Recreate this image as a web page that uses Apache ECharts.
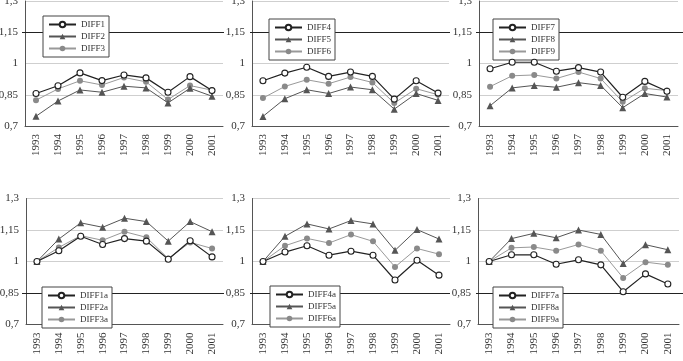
<!DOCTYPE html>
<html>
<head>
<meta charset="utf-8">
<script src="https://cdn.jsdelivr.net/npm/echarts@6/dist/echarts.min.js"></script>
<style>
html, body { margin: 0; padding: 0; background: #fff; }
#main { width: 683px; height: 361px; }
</style>
</head>
<body>
<div id="main"></div>
<script>
// categories and tick values
var years = ['1993', '1994', '1995', '1996', '1997', '1998', '1999', '2000', '2001'];
var yTicks = [0.7, 0.85, 1, 1.15, 1.3];

// top row
var diff1 = [0.856, 0.893, 0.955, 0.918, 0.945, 0.931, 0.862, 0.937, 0.870];
var diff2 = [0.747, 0.820, 0.873, 0.862, 0.891, 0.883, 0.811, 0.881, 0.843];
var diff3 = [0.824, 0.878, 0.917, 0.897, 0.933, 0.912, 0.827, 0.894, 0.872];
var diff4 = [0.917, 0.954, 0.982, 0.938, 0.959, 0.938, 0.829, 0.917, 0.858];
var diff5 = [0.746, 0.831, 0.874, 0.856, 0.887, 0.874, 0.781, 0.856, 0.823];
var diff6 = [0.834, 0.890, 0.922, 0.903, 0.935, 0.909, 0.810, 0.879, 0.850];
var diff7 = [0.975, 1.006, 1.006, 0.963, 0.980, 0.959, 0.838, 0.914, 0.867];
var diff8 = [0.797, 0.883, 0.895, 0.886, 0.908, 0.895, 0.788, 0.856, 0.839];
var diff9 = [0.889, 0.941, 0.945, 0.928, 0.959, 0.928, 0.816, 0.881, 0.870];

// bottom row
var diff1a = [1.0, 1.051, 1.120, 1.081, 1.109, 1.097, 1.011, 1.099, 1.022];
var diff2a = [1.0, 1.107, 1.184, 1.163, 1.206, 1.190, 1.097, 1.190, 1.142];
var diff3a = [1.0, 1.067, 1.123, 1.101, 1.142, 1.115, 1.014, 1.091, 1.062];
var diff4a = [1.0, 1.045, 1.075, 1.030, 1.049, 1.030, 0.912, 1.006, 0.935];
var diff5a = [1.0, 1.120, 1.179, 1.155, 1.195, 1.179, 1.053, 1.152, 1.107];
var diff6a = [1.0, 1.075, 1.110, 1.088, 1.128, 1.096, 0.974, 1.062, 1.035];
var diff7a = [1.0, 1.032, 1.032, 0.987, 1.008, 0.984, 0.856, 0.941, 0.893];
var diff8a = [1.0, 1.109, 1.134, 1.113, 1.150, 1.129, 0.990, 1.080, 1.056];
var diff9a = [1.0, 1.065, 1.069, 1.051, 1.081, 1.051, 0.922, 0.997, 0.984];

// panel layout: grid, legend box position, dark reference line value and its horizontal extent
var panels = [
    { names: ['DIFF1', 'DIFF2', 'DIFF3'], data: [diff1, diff2, diff3], left: 25, top: 1, width: 198, height: 125, lgLeft: 43, lgTop: 16, ref: 1.15, refFrom: 22, refTo: 224 },
    { names: ['DIFF4', 'DIFF5', 'DIFF6'], data: [diff4, diff5, diff6], left: 252, top: 1, width: 197, height: 125, lgLeft: 269, lgTop: 19, ref: 1.15, refFrom: 250, refTo: 450 },
    { names: ['DIFF7', 'DIFF8', 'DIFF9'], data: [diff7, diff8, diff9], left: 479, top: 1, width: 199, height: 125, lgLeft: 493, lgTop: 19, ref: 1.15, refFrom: 476, refTo: 683 },
    { names: ['DIFF1a', 'DIFF2a', 'DIFF3a'], data: [diff1a, diff2a, diff3a], left: 26, top: 198.5, width: 197, height: 126, lgLeft: 42, lgTop: 287, ref: 0.85, refFrom: 22, refTo: 224 },
    { names: ['DIFF4a', 'DIFF5a', 'DIFF6a'], data: [diff4a, diff5a, diff6a], left: 252, top: 198.5, width: 198, height: 126, lgLeft: 270, lgTop: 286, ref: 0.85, refFrom: 250, refTo: 450 },
    { names: ['DIFF7a', 'DIFF8a', 'DIFF9a'], data: [diff7a, diff8a, diff9a], left: 478, top: 198.5, width: 201, height: 126, lgLeft: 493, lgTop: 287, ref: 0.85, refFrom: 476, refTo: 683 }
];

// marker / line style for 1st, 2nd, 3rd series of each panel
var styles = [
    { symbol: 'circle', symbolSize: 6, itemStyle: { color: '#fff', borderColor: '#222', borderWidth: 1.1 }, lineStyle: { color: '#222', width: 1.2 } },
    { symbol: 'triangle', symbolSize: 7, itemStyle: { color: '#555' }, lineStyle: { color: '#555', width: 1 } },
    { symbol: 'circle', symbolSize: 6, itemStyle: { color: '#8a8a8a' }, lineStyle: { color: '#999', width: 1 } }
];

var serif = 'Liberation Serif';
var grids = [], xAxes = [], yAxes = [], legends = [], series = [];

panels.forEach(function (p, i) {
    grids.push({ left: p.left, top: p.top, width: p.width, height: p.height, outerBoundsMode: 'none', containLabel: false });
    xAxes.push({
        type: 'category',
        gridIndex: i,
        data: years,
        boundaryGap: true,
        axisLine: { lineStyle: { color: '#555', width: 1 } },
        axisTick: { inside: true, length: 4, lineStyle: { color: '#555' } },
        axisLabel: { rotate: 90, margin: 8, fontFamily: serif, fontSize: 11, color: '#333' }
    });
    yAxes.push({
        type: 'value',
        gridIndex: i,
        min: 0.7,
        max: 1.3,
        axisLine: { show: true, lineStyle: { color: '#555', width: 1 } },
        axisTick: { show: false, customValues: yTicks },
        splitLine: { show: true, lineStyle: { color: '#cfcfcf', width: 1 } },
        axisLabel: {
            customValues: yTicks,
            margin: 7,
            fontFamily: serif,
            fontSize: 11,
            color: '#333',
            formatter: function (v) { return String(+v.toFixed(2)).replace('.', ','); }
        }
    });
    legends.push({
        orient: 'vertical',
        left: p.lgLeft,
        top: p.lgTop,
        data: p.names,
        selectedMode: false,
        backgroundColor: '#fff',
        borderColor: '#444',
        borderWidth: 1,
        borderRadius: 0,
        padding: [4, 4, 4, 5],
        itemGap: 3,
        itemWidth: 27,
        itemHeight: 7,
        textStyle: { fontFamily: serif, fontSize: 9, color: '#333' }
    });
    p.names.forEach(function (name, k) {
        series.push({
            name: name,
            type: 'line',
            xAxisIndex: i,
            yAxisIndex: i,
            data: p.data[k],
            symbol: styles[k].symbol,
            symbolSize: styles[k].symbolSize,
            showAllSymbol: true,
            itemStyle: styles[k].itemStyle,
            lineStyle: styles[k].lineStyle,
            z: 5 - k
        });
    });
});

var myChart = echarts.init(document.getElementById('main'));
myChart.setOption({
    animation: false,
    backgroundColor: '#fff',
    grid: grids,
    xAxis: xAxes,
    yAxis: yAxes,
    legend: legends,
    series: series
});

// dark reference lines, placed through each panel's own y scale
var refLines = panels.map(function (p, i) {
    var y = Math.round(myChart.convertToPixel({ yAxisIndex: i }, p.ref)) + 0.5;
    return {
        type: 'line',
        silent: true,
        z: 1,
        shape: { x1: p.refFrom, y1: y, x2: p.refTo, y2: y },
        style: { stroke: '#222', lineWidth: 1 }
    };
});
myChart.setOption({ graphic: refLines });
</script>
</body>
</html>
